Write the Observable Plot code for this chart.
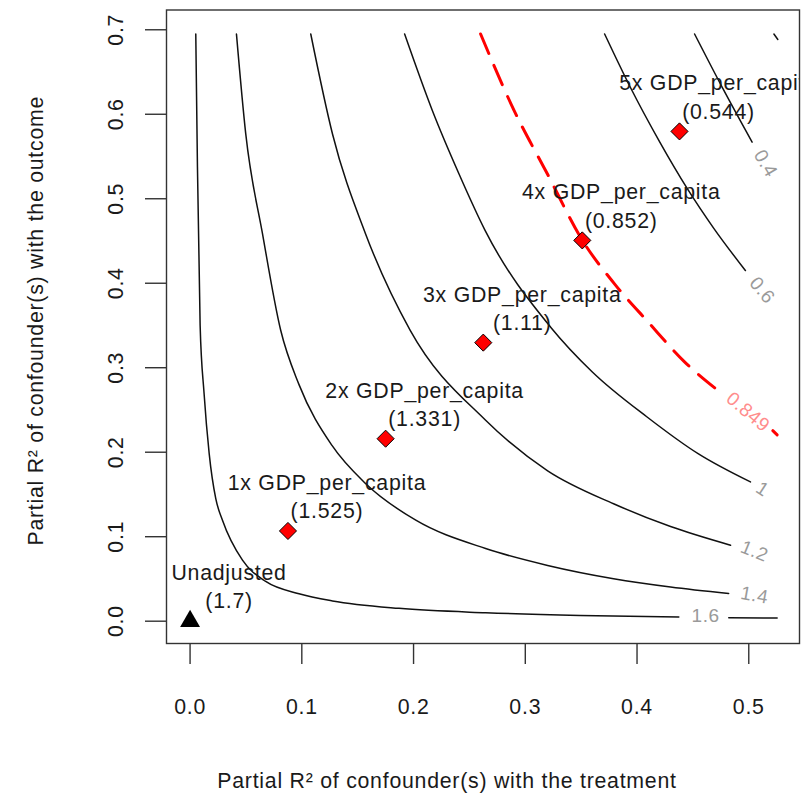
<!DOCTYPE html>
<html>
<head>
<meta charset="utf-8">
<script src="https://cdn.jsdelivr.net/npm/d3@7"></script>
<script src="https://cdn.jsdelivr.net/npm/@observablehq/plot@0.6"></script>
<style>
  html, body { margin: 0; padding: 0; background: #fff; }
  #chart svg text { letter-spacing: 0.75px; }
  #chart svg .clab text { letter-spacing: 0.5px; }
</style>
</head>
<body>
<div id="chart"></div>
<script>
// ---- tick values ----
const xTicks = [0, 0.1, 0.2, 0.3, 0.4, 0.5];
const yTicks = [0, 0.1, 0.2, 0.3, 0.4, 0.5, 0.6, 0.7];

// ---- contour curves: [r2dz, r2yz] ----
const level16a = [[0.0051,0.695],[0.0066,0.5375],[0.009,0.35],[0.0125,0.27],[0.0171,0.1984],[0.023,0.145],[0.029,0.1195],[0.0469,0.0722],[0.0677,0.0470],[0.0975,0.0325],[0.1274,0.0240],[0.187,0.0152],[0.2645,0.0100],[0.349,0.0068],[0.4374,0.0051]];
const level16b = [[0.4821,0.0042],[0.5254,0.0037]];
const level14 = [[0.0415,0.695],[0.0498,0.577],[0.0648,0.4587],[0.0811,0.3443],[0.0975,0.280],[0.127,0.208],[0.157,0.163],[0.202,0.1195],[0.2645,0.0860],[0.32,0.066],[0.379,0.0503],[0.43,0.0405],[0.482,0.0328]];
const level12 = [[0.108,0.695],[0.1274,0.577],[0.157,0.4587],[0.197,0.3443],[0.2645,0.2378],[0.32,0.178],[0.379,0.139],[0.43,0.112],[0.4837,0.0899]];
const level10 = [[0.192,0.695],[0.2168,0.6045],[0.2406,0.5296],[0.264,0.4626],[0.3227,0.348],[0.36,0.295],[0.409,0.2417],[0.455,0.198],[0.5015,0.1648]];
const level06 = [[0.371,0.695],[0.394,0.632],[0.42,0.568],[0.445,0.512],[0.4687,0.465],[0.497,0.415]];
const level04 = [[0.4515,0.695],[0.477,0.630],[0.503,0.567]];
const level02 = [[0.5225,0.695],[0.526,0.6885]];
const threshA = [[0.26,0.695],[0.2898,0.605],[0.3197,0.5296],[0.351,0.451],[0.38,0.399],[0.41,0.354],[0.4425,0.307],[0.4745,0.271]];
const threshB = [[0.5215,0.2255],[0.5254,0.2205]];

// ---- contour labels ----
const contourText = ["1.6", "1.4", "1.2", "1", "0.6", "0.4"];
const contourLabX = [0.4613, 0.5051, 0.5051, 0.5122, 0.512, 0.515];
const contourLabY = [0.0059, 0.0308, 0.0828, 0.1562, 0.3916, 0.5418];
const contourAngle = [0, 10, 22, 33, 50, 60];
const thresholdText = ["0.849"];
const thresholdLabX = [0.4993];
const thresholdLabY = [0.2476];

// ---- bounds ----
const boundNames = ["Unadjusted", "1x GDP_per_capita", "2x GDP_per_capita", "3x GDP_per_capita", "4x GDP_per_capita", "5x GDP_per_capita"];
const boundX = [0, 0.0876, 0.175, 0.2624, 0.351, 0.438];
const boundY = [0, 0.1068, 0.216, 0.3297, 0.4507, 0.5797];
const boundEstimate = ["1.7", "1.525", "1.331", "1.11", "0.852", "0.544"];

const xTitle = "Partial R² of confounder(s) with the treatment";
const yTitle = "Partial R² of confounder(s) with the outcome";

// ---- build tables ----
const toRows = (arr, part) => arr.map(([x, y]) => ({x, y, part}));
const contourRows = [
  ...toRows(level16a, "1.6a"), ...toRows(level16b, "1.6b"),
  ...toRows(level14, "1.4"), ...toRows(level12, "1.2"), ...toRows(level10, "1.0"),
  ...toRows(level06, "0.6"), ...toRows(level04, "0.4"), ...toRows(level02, "0.2")
];
const threshRowsA = toRows(threshA, "a");
const threshRowsB = toRows(threshB, "b");
const contourLabels = contourText.map((t, i) => ({t, x: contourLabX[i], y: contourLabY[i], a: contourAngle[i]}));
const thresholdLabels = thresholdText.map((t, i) => ({t, x: thresholdLabX[i], y: thresholdLabY[i], a: 40}));
const bounds = boundNames.map((n, i) => ({name: n, x: boundX[i], y: boundY[i], est: boundEstimate[i]}));
const fmt = d3.format(".1f");

const plot = Plot.plot({
  width: 801,
  height: 803,
  marginLeft: 166,
  marginRight: 2,
  marginTop: 9.5,
  marginBottom: 160,
  x: {domain: [-0.0211, 0.5454]},
  y: {domain: [-0.0264, 0.7234]},
  style: {fontFamily: "'Liberation Sans', Arial, Helvetica, sans-serif", fontSize: "21.3px", color: "#1a1a1a", background: "#fff"},
  marks: [
    Plot.line(contourRows, {x: "x", y: "y", z: "part", stroke: "#111", strokeWidth: 1.5, curve: "monotone-x"}),
    Plot.line(threshRowsA, {x: "x", y: "y", stroke: "#ff0000", strokeWidth: 3, strokeDasharray: "21,13", curve: "monotone-x"}),
    Plot.line(threshRowsB, {x: "x", y: "y", stroke: "#ff0000", strokeWidth: 3}),
    Plot.text(contourLabels, {x: "x", y: "y", text: "t", rotate: "a", fill: "#9a9a9a", fontSize: 19, className: "clab"}),
    Plot.text(thresholdLabels, {x: "x", y: "y", text: "t", rotate: "a", fill: "#ff8c8c", fontSize: 19, className: "clab"}),
    Plot.dot(bounds.slice(0, 1), {x: "x", y: "y", symbol: "triangle2", r: 9.5, fill: "#000", stroke: "none"}),
    Plot.dot(bounds.slice(1), {x: "x", y: "y", symbol: "diamond2", r: 7.7, fill: "#ff0000", stroke: "#000", strokeWidth: 1}),
    Plot.text(bounds, {x: "x", y: "y", text: d => `${d.name}\n(${d.est})`, dx: 39, dy: -36, lineHeight: 1.33, fill: "#1a1a1a", clip: true}),
    Plot.frame({stroke: "#333", strokeWidth: 1.4}),
    Plot.axisX(xTicks, {anchor: "bottom", tickSize: 21, tickPadding: 34, tickFormat: fmt, label: null, stroke: "#333", strokeWidth: 1.4}),
    Plot.axisY(yTicks, {anchor: "left", tickSize: 21, tickFormat: () => "", label: null, stroke: "#333", strokeWidth: 1.4}),
    Plot.text(yTicks, {y: d => d, text: d => fmt(d), frameAnchor: "left", dx: -44, rotate: -90, lineAnchor: "bottom", textAnchor: "middle", fill: "#1a1a1a"}),
    Plot.text([xTitle], {text: d => d, frameAnchor: "bottom", dx: -36, dy: 144, lineAnchor: "bottom", textAnchor: "middle", fill: "#1a1a1a"}),
    Plot.text([yTitle], {text: d => d, frameAnchor: "left", dx: -124, dy: -6, rotate: -90, lineAnchor: "bottom", textAnchor: "middle", fill: "#1a1a1a"})
  ]
});
document.getElementById("chart").appendChild(plot);
</script>
</body>
</html>
